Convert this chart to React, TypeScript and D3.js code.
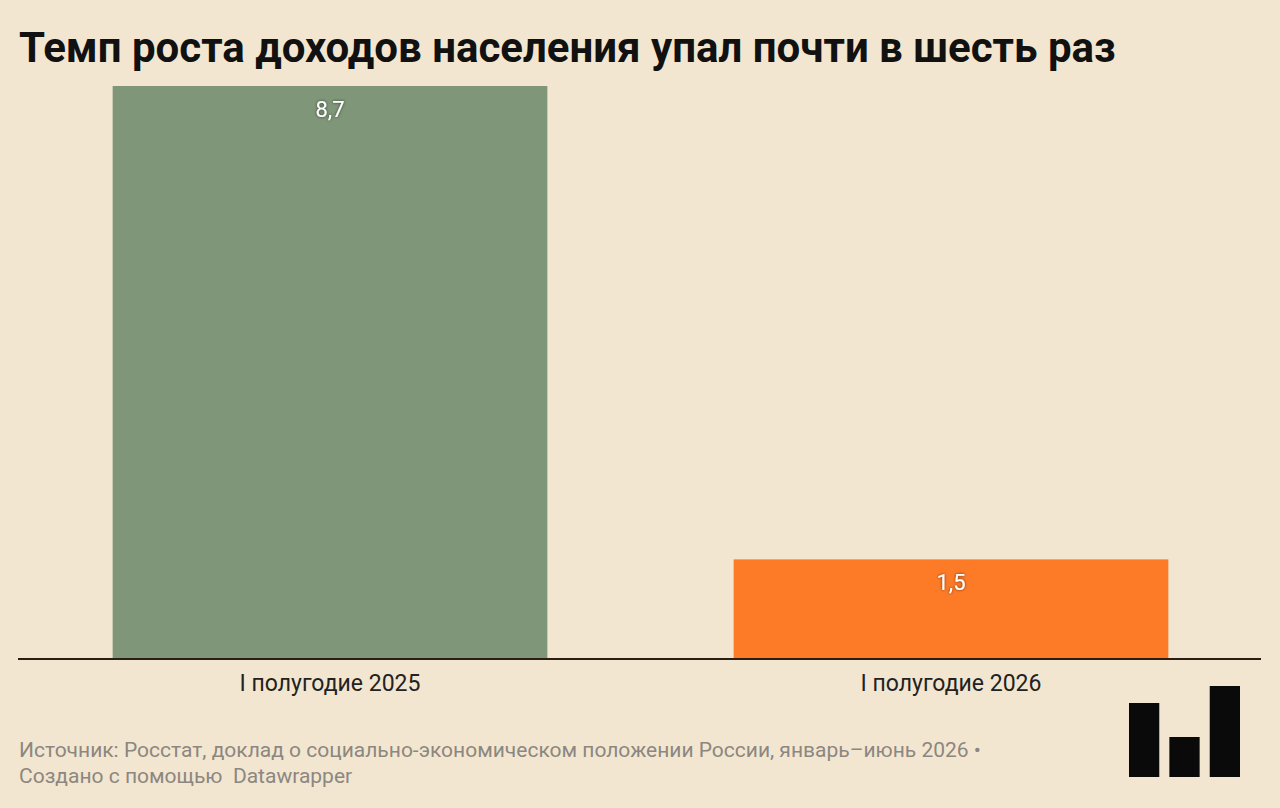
import React from 'react';
import * as d3 from 'd3';

const categories = ['I полугодие 2025', 'I полугодие 2026'];
const values = [8.7, 1.5];
const labels = ['8,7', '1,5'];
const colors = ['#7f9678', '#fd7b27'];
const logoHeights = [74, 40, 91];

const W = 1280;
const H = 808;
const FONT = 'Roboto, "Noto Sans", sans-serif';

export default function App() {
  const x = d3.scaleBand<string>()
    .domain(categories)
    .range([19.5, 1261.5])
    .paddingInner(0.3)
    .paddingOuter(0.15);

  const y = d3.scaleLinear().domain([0, 8.7]).range([658, 86]);

  const logoX = d3.scaleBand<number>().domain([0, 1, 2]).range([1129, 1240]).paddingInner(0.25);

  return (
    <div style={{ position: 'fixed', left: 0, top: 0, width: W, height: H, background: '#f2e6d0' }}>
      <svg width={W} height={H} style={{ display: 'block' }}>
        <defs>
          <filter id="shadow" x="-20%" y="-20%" width="140%" height="140%">
            <feDropShadow dx="0" dy="0" stdDeviation="1.5" floodColor="#000" floodOpacity="0.6" />
          </filter>
        </defs>
        <rect width={W} height={H} fill="#f2e6d0" />
        <text x={19} y={62} fontFamily={FONT} fontWeight={700} fontSize={42} fill="#111">
          Темп роста доходов населения упал почти в шесть раз
        </text>

        {categories.map((c, i) => (
          <g key={c}>
            <rect
              x={x(c)}
              y={y(values[i])}
              width={x.bandwidth()}
              height={y(0) - y(values[i])}
              fill={colors[i]}
            />
            <text
              x={(x(c) ?? 0) + x.bandwidth() / 2}
              y={y(values[i]) + 31}
              textAnchor="middle"
              fontFamily={FONT}
              fontSize={22}
              fill="#fff"
              filter="url(#shadow)"
            >
              {labels[i]}
            </text>
            <text
              x={(x(c) ?? 0) + x.bandwidth() / 2}
              y={691}
              textAnchor="middle"
              fontFamily={FONT}
              fontSize={23}
              fill="#222"
            >
              {c}
            </text>
          </g>
        ))}

        <line x1={18} x2={1261} y1={659} y2={659} stroke="#2a1e14" strokeWidth={2} />

        <text x={19} y={757} fontFamily={FONT} fontSize={21} fill="#8c8780">
          Источник: Росстат, доклад о социально-экономическом положении России, январь–июнь 2026 •
        </text>
        <text x={19} y={783} fontFamily={FONT} fontSize={21} fill="#8c8780" style={{ whiteSpace: 'pre' }}>
          {'Создано с помощью  Datawrapper'}
        </text>

        {logoHeights.map((h, i) => (
          <rect key={i} x={logoX(i)} y={777 - h} width={logoX.bandwidth()} height={h} fill="#0a0a0a" />
        ))}
      </svg>
    </div>
  );
}
